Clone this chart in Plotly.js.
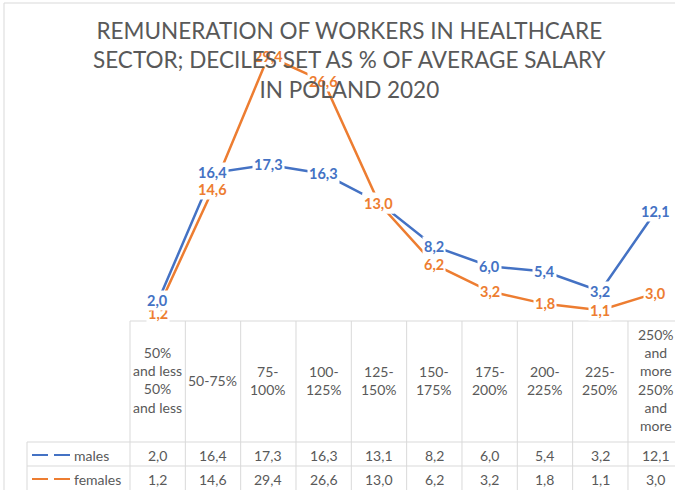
<!DOCTYPE html>
<html>
<head>
<meta charset="utf-8">
<script src="https://cdn.plot.ly/plotly-3.0.1.min.js"></script>
<style>html,body{margin:0;padding:0;background:#fff;}#chart{width:675px;height:490px;}</style>
</head>
<body>
<div id="chart"></div>
<script>
// ---- data ----
const categories = ['50% and less','50-75%','75-100%','100-125%','125-150%','150-175%','175-200%','200-225%','225-250%','250% and more'];
const tickLabels = ['50%<br>and less<br>50%<br>and less','50-75%','75-<br>100%','100-<br>125%','125-<br>150%','150-<br>175%','175-<br>200%','200-<br>225%','225-<br>250%','250%<br>and<br>more<br>250%<br>and<br>more'];
const males = [2.0,16.4,17.3,16.3,13.1,8.2,6.0,5.4,3.2,12.1];
const females = [1.2,14.6,29.4,26.6,13.0,6.2,3.2,1.8,1.1,3.0];
const seriesNames = ['males','females'];
const titleText = 'REMUNERATION OF WORKERS IN HEALTHCARE<br>SECTOR; DECILES SET AS % OF AVERAGE SALARY<br>IN POLAND 2020';

// ---- styling ----
const W = 675, H = 490;
const ML = 130, MR = 0, MT = 6, MB = 170;
const PW = W - ML - MR, PH = H - MT - MB;
const BLUE = '#4472C4', ORANGE = '#ED7D31', GRAY = '#595959', GRID = '#d9d9d9';
const FONT = 'Lato, "Open Sans", sans-serif';
const px2x = p => (p - ML) / PW;          // pixel -> paper x
const py2y = p => (H - MB - p) / PH;      // pixel -> paper y
const fmt = v => v.toFixed(1).replace('.', ',');

const traces = [
  {x: categories, y: males, name: seriesNames[0], type: 'scatter', mode: 'lines',
   line: {color: BLUE, width: 2.5}, hoverinfo: 'skip'},
  {x: categories, y: females, name: seriesNames[1], type: 'scatter', mode: 'lines',
   line: {color: ORANGE, width: 2.5}, hoverinfo: 'skip'}
];

const annotations = [];
const dataLabel = (v, i, col, other) => {
  const d = v - other;
  // small offset to separate nearby (but not coincident) labels
  const shift = (Math.abs(d) >= 0.5 && Math.abs(d) < 1.5) ? (d > 0 ? 2 : -4) : 0;
  annotations.push({
    x: categories[i], y: v, xref: 'x', yref: 'y', text: fmt(v), showarrow: false,
    font: {family: FONT, size: 14.5, color: col, weight: 'bold'}, yshift: shift,
    bgcolor: 'rgba(255,255,255,1)', borderpad: 1, xanchor: 'center', yanchor: 'middle'
  });
};
// data labels (orange first, blue on top; near-coincident orange re-drawn on top)
females.forEach((v, i) => dataLabel(v, i, ORANGE, males[i]));
males.forEach((v, i) => dataLabel(v, i, BLUE, females[i]));
females.forEach((v, i) => { if (Math.abs(v - males[i]) < 0.5) dataLabel(v, i, ORANGE, males[i]); });
// table header
tickLabels.forEach((t, i) => annotations.push({
  x: categories[i], y: py2y(380), xref: 'x', yref: 'paper', text: t, showarrow: false,
  font: {family: FONT, size: 14, color: GRAY}, xanchor: 'center', yanchor: 'middle'
}));
// table values
[[males, 455], [females, 479]].forEach(([arr, py]) => {
  arr.forEach((v, i) => annotations.push({
    x: categories[i], y: py2y(py), xref: 'x', yref: 'paper', text: fmt(v), showarrow: false,
    font: {family: FONT, size: 14, color: GRAY}, xanchor: 'center', yanchor: 'middle'
  }));
});
// row labels
[[seriesNames[0], 455], [seriesNames[1], 479]].forEach(([n, py]) => annotations.push({
  x: px2x(72), y: py2y(py), xref: 'paper', yref: 'paper', text: n, showarrow: false,
  font: {family: FONT, size: 14, color: GRAY}, xanchor: 'left', yanchor: 'middle'
}));
// title (drawn last, on top)
annotations.push({
  x: px2x(350), y: py2y(60), xref: 'paper', yref: 'paper', text: titleText, showarrow: false,
  font: {family: FONT, size: 22.5, color: GRAY}, xanchor: 'center', yanchor: 'middle', align: 'center'
});

const shapes = [];
const line = (x0, y0, x1, y1, color, width) => shapes.push({
  type: 'line', xref: 'paper', yref: 'paper', x0: px2x(x0), y0: py2y(y0), x1: px2x(x1), y1: py2y(y1),
  line: {color: color, width: width}, layer: 'below'
});
// chart area border
line(4, 3, 4, 490, GRID, 1);
line(4, 3, 675, 3, GRID, 1);
// table grid
const colW = PW / 9.85;
for (let k = 0; k <= 10; k++) {
  const xp = ML + k * colW;
  line(xp, 321, xp, 495, GRID, 1);
}
line(ML, 321, 700, 321, GRID, 1);
line(27, 442, 700, 442, GRID, 1);
line(27, 466, 700, 466, GRID, 1);
line(27, 442, 27, 495, GRID, 1);
// legend keys
[[BLUE, 455], [ORANGE, 479]].forEach(([c, py]) => {
  line(32, py, 48, py, c, 2);
  line(54, py, 70, py, c, 2);
});

const layout = {
  width: W, height: H,
  margin: {l: ML, r: MR, t: MT, b: MB, pad: 0},
  paper_bgcolor: '#fff', plot_bgcolor: '#fff',
  showlegend: false,
  xaxis: {type: 'category', range: [-0.5, 9.35], showticklabels: false, showgrid: false,
          zeroline: false, showline: false, ticks: ''},
  yaxis: {range: [0, 35], showticklabels: false, showgrid: false, zeroline: false,
          showline: false, ticks: ''},
  annotations: annotations,
  shapes: shapes
};

Plotly.newPlot('chart', traces, layout, {displayModeBar: false, staticPlot: true});
</script>
</body>
</html>
